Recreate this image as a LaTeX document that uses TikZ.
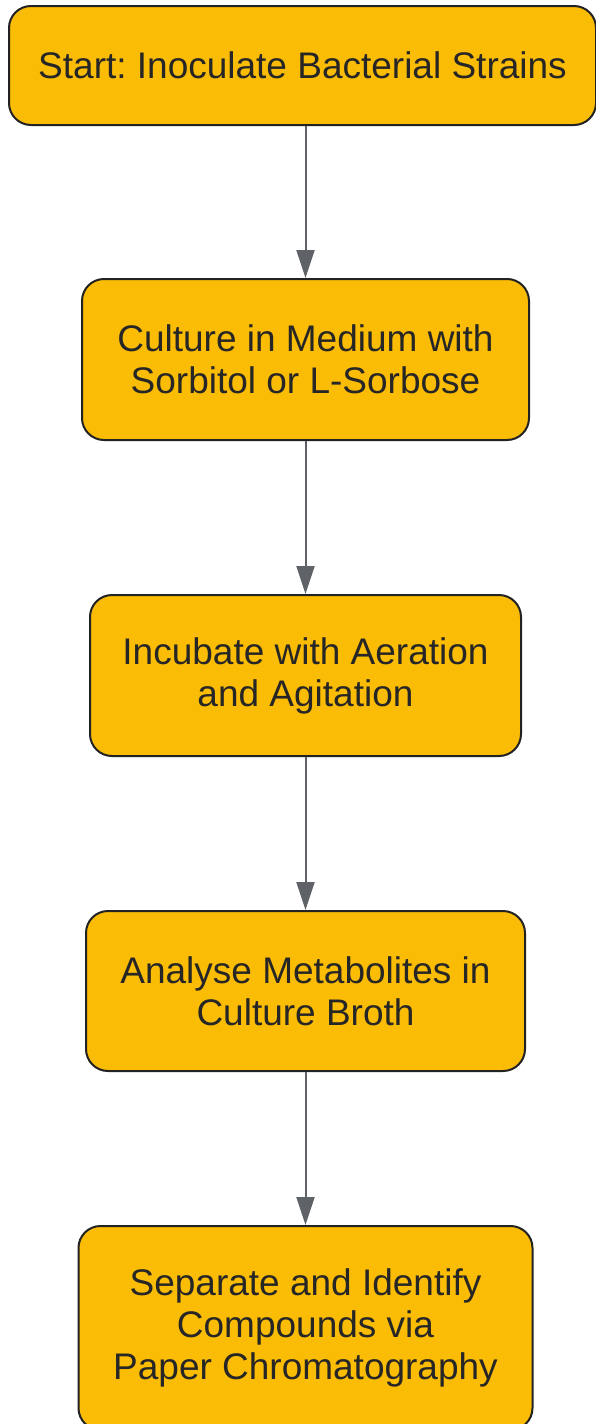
\documentclass[tikz,border=0pt]{standalone}
\usepackage{fontspec}
\setmainfont{Liberation Sans}
\frenchspacing
\usetikzlibrary{arrows.meta}
\definecolor{boxfill}{HTML}{FBBC05}
\definecolor{boxline}{HTML}{222222}
\definecolor{arrowc}{HTML}{5F6368}
\definecolor{txt}{HTML}{262626}
\tikzset{
  stepbox/.style={draw=boxline, line width=2pt, fill=boxfill, rounded corners=22pt,
    align=center, text=txt, font=\fontsize{37}{42}\selectfont, inner sep=0pt},
  flow/.style={draw=arrowc, line width=2pt, -{Triangle[length=28pt,width=18pt]}}
}
\begin{document}
\begin{tikzpicture}[x=1pt,y=-1pt]
\useasboundingbox (0,0) rectangle (596,1424);
\node[stepbox, minimum width=587pt, minimum height=119pt] (s1) at (302.5,65.5) {Start: Inoculate Bacterial Strains};
\node[stepbox, minimum width=447pt, minimum height=161pt] (s2) at (305.5,359.5) {Culture in Medium with\\Sorbitol or L-Sorbose};
\node[stepbox, minimum width=431pt, minimum height=161pt] (s3) at (305.5,675.5) {Incubate with Aeration\\and Agitation};
\node[stepbox, minimum width=439pt, minimum height=160pt] (s4) at (305.5,991) {Analyse Metabolites in\\Culture Broth};
\node[stepbox, minimum width=454pt, minimum height=204pt] (s5) at (305.5,1328) {Separate and Identify\\Compounds via\\Paper Chromatography};
\draw[flow] (s1.south -| s2.north) -- (s2.north);
\draw[flow] (s2) -- (s3);
\draw[flow] (s3) -- (s4);
\draw[flow] (s4) -- (s5);
\end{tikzpicture}
\end{document}
